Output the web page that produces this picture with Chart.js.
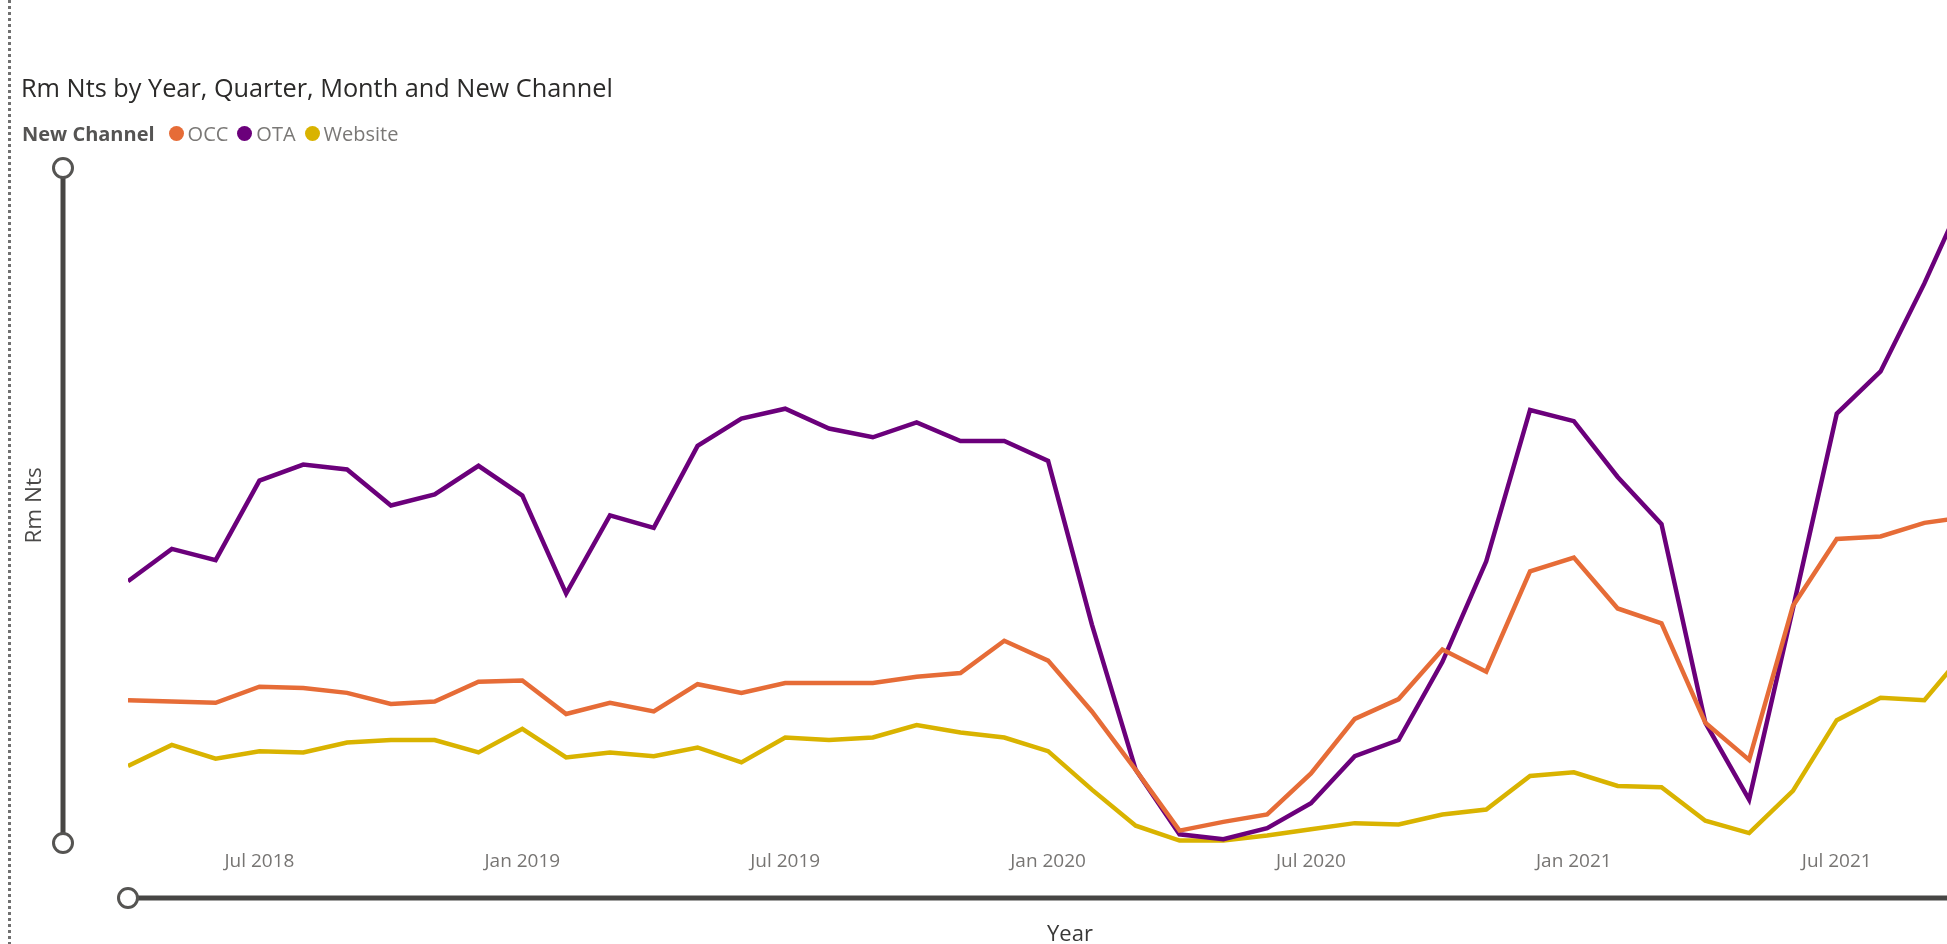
<!DOCTYPE html>
<html>
<head>
<meta charset="utf-8">
<script src="https://cdn.jsdelivr.net/npm/chart.js@4.4.1/dist/chart.umd.min.js"></script>
<style>
  html, body { margin:0; padding:0; background:#ffffff; overflow:hidden; width:1947px; height:944px; }
  #wrap { position:absolute; left:0; top:0; width:2020px; height:948px; }
  #border { position:absolute; left:8px; top:0; width:3px; height:944px;
    background:repeating-linear-gradient(to bottom, #707070 0 3px, transparent 3px 6px); }
  #title { position:absolute; left:21px; top:70px; font-family:'Open Sans', sans-serif; font-size:25.3px; color:#2b2a29; white-space:nowrap; }
  #legend { position:absolute; left:22px; top:120px; font-family:'Open Sans', sans-serif; font-size:20px; color:#7a7876;
    display:flex; align-items:center; white-space:nowrap; }
  #legend .lt { font-weight:bold; color:#555453; margin-right:14px; }
  #legend .dot { width:15px; height:15px; border-radius:50%; display:inline-block; margin-right:4px; }
  #legend .it { display:flex; align-items:center; margin-right:9px; }
</style>
</head>
<body>
<div id="wrap"><canvas id="c"></canvas></div>
<div id="border"></div>
<div id="title">Rm Nts by Year, Quarter, Month and New Channel</div>
<div id="legend"></div>
<script>
// ---- data ----
const months = [
  'Apr 2018','May 2018','Jun 2018','Jul 2018','Aug 2018','Sep 2018','Oct 2018','Nov 2018','Dec 2018',
  'Jan 2019','Feb 2019','Mar 2019','Apr 2019','May 2019','Jun 2019','Jul 2019','Aug 2019','Sep 2019','Oct 2019','Nov 2019','Dec 2019',
  'Jan 2020','Feb 2020','Mar 2020','Apr 2020','May 2020','Jun 2020','Jul 2020','Aug 2020','Sep 2020','Oct 2020','Nov 2020','Dec 2020',
  'Jan 2021','Feb 2021','Mar 2021','Apr 2021','May 2021','Jun 2021','Jul 2021','Aug 2021','Sep 2021','Oct 2021'
];
const tickLabels = ['Jul 2018','Jan 2019','Jul 2019','Jan 2020','Jul 2020','Jan 2021','Jul 2021'];
const seriesNames = ['OCC','OTA','Website'];
const seriesColors = ['#E66C37','#6B007B','#D9B300'];
const occ = [
  1150,1140,1130,1260,1250,1210,1120,1140,1300,
  1310,1040,1130,1060,1280,1210,1290,1290,1290,1340,1370,1630,
  1470,1060,590,100,170,230,560,1000,1160,1560,1380,2190,
  2300,1890,1770,970,670,1910,2450,2470,2580,2630
];
const ota = [
  2110,2370,2280,2920,3050,3010,2720,2810,3040,
  2800,2010,2640,2540,3200,3420,3500,3340,3270,3390,3240,3240,
  3080,1760,590,70,30,120,320,700,830,1460,2270,3490,
  3400,2950,2570,970,350,1890,3460,3800,4510,5290
];
const website = [
  620,790,680,740,730,810,830,830,730,
  920,690,730,700,770,650,850,830,850,950,890,850,
  740,430,140,20,20,60,110,160,150,230,270,540,
  570,460,450,180,80,420,990,1170,1150,1570
];
const yMin = 0, yMax = 5440;
const xMin = 0, xMax = 43;   // axis runs one month past the last visible point (plot continues off-screen)

// ---- legend (HTML) ----
const lg = document.getElementById('legend');
const lt = document.createElement('span'); lt.className = 'lt'; lt.textContent = 'New Channel'; lg.appendChild(lt);
seriesNames.forEach((n, i) => {
  const it = document.createElement('span'); it.className = 'it';
  const d = document.createElement('span'); d.className = 'dot'; d.style.background = seriesColors[i];
  const t = document.createElement('span'); t.textContent = n;
  it.appendChild(d); it.appendChild(t); lg.appendChild(it);
});

// ---- slider decorations ----
const sliders = {
  id: 'sliders',
  afterDraw(chart) {
    const {ctx, chartArea: a} = chart;
    ctx.save();
    ctx.strokeStyle = '#474644';
    ctx.lineCap = 'butt';
    const vx = a.left - 65;
    ctx.lineWidth = 5;
    ctx.beginPath(); ctx.moveTo(vx, a.top); ctx.lineTo(vx, a.bottom); ctx.stroke();
    const hy = a.bottom + 55;
    ctx.beginPath(); ctx.moveTo(a.left, hy); ctx.lineTo(chart.width, hy); ctx.stroke();
    const circ = (x, y) => {
      ctx.beginPath(); ctx.arc(x, y, 9.5, 0, Math.PI * 2);
      ctx.fillStyle = '#ffffff'; ctx.fill();
      ctx.lineWidth = 3; ctx.strokeStyle = '#555452'; ctx.stroke();
    };
    circ(vx, a.top); circ(vx, a.bottom); circ(a.left, hy);
    ctx.restore();
  }
};

const datasets = [occ, ota, website].map((vals, i) => ({
  label: seriesNames[i],
  data: vals.map((v, k) => ({ x: k, y: v })),
  borderColor: seriesColors[i],
  backgroundColor: seriesColors[i],
  borderWidth: 4.5,
  pointRadius: 0,
  tension: 0,
  fill: false
}));

new Chart(document.getElementById('c'), {
  type: 'line',
  data: { datasets },
  options: {
    responsive: true,
    maintainAspectRatio: false,
    animation: false,
    layout: { padding: { left: 0, right: 8, top: 168, bottom: 0 } },
    plugins: { legend: { display: false }, title: { display: false }, tooltip: { enabled: false } },
    scales: {
      x: {
        type: 'linear',
        min: xMin, max: xMax,
        grid: { display: false, drawTicks: false },
        border: { display: false },
        afterBuildTicks: (s) => { s.ticks = tickLabels.map(l => ({ value: months.indexOf(l) })); },
        ticks: {
          autoSkip: false, maxRotation: 0, padding: 7,
          color: '#777573', font: { family: 'Open Sans', size: 19 },
          callback: (v) => months[v] || ''
        },
        title: { display: true, text: 'Year', color: '#3a3938', font: { family: 'Open Sans', size: 22 }, padding: { top: 0, bottom: 0 } },
        afterFit: (s) => { s.height = 105; }
      },
      y: {
        min: yMin, max: yMax,
        grid: { display: false, drawTicks: false },
        border: { display: false },
        ticks: { display: false },
        title: { display: true, text: 'Rm Nts', color: '#4a4948', font: { family: 'Open Sans', size: 22.5 }, padding: { top: 21, bottom: 0 } },
        afterFit: (s) => { s.width = 128; }
      }
    }
  },
  plugins: [sliders]
});
</script>
</body>
</html>
